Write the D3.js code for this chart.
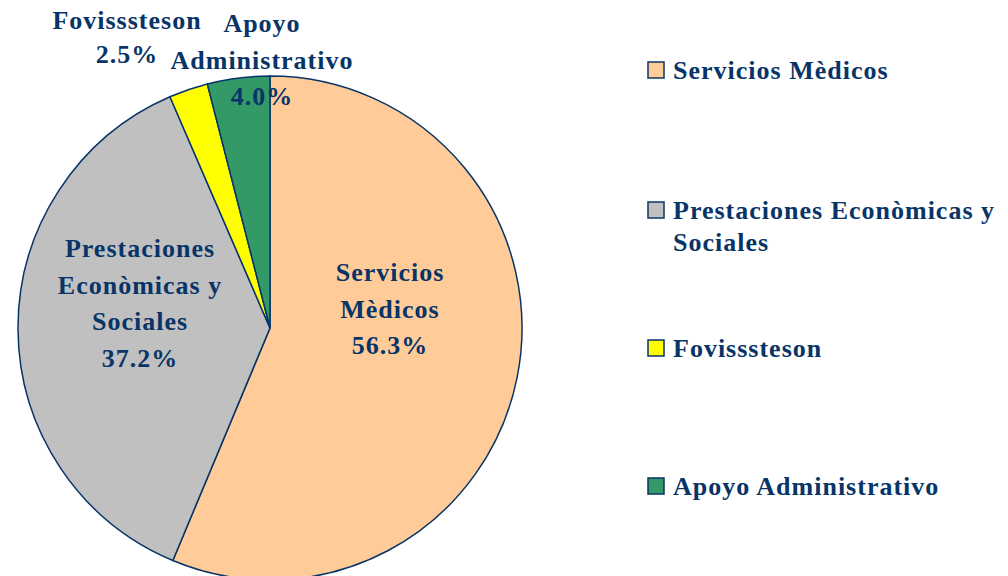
<!DOCTYPE html>
<html>
<head>
<meta charset="utf-8">
<script src="https://cdn.jsdelivr.net/npm/d3@7"></script>
<style>
  body { margin: 0; background: #fff; }
  text { font-family: "Liberation Serif", "Times New Roman", serif; font-weight: bold; fill: #083468; letter-spacing: 1px; }
</style>
</head>
<body>
<div id="chart"></div>
<script>
// Pie chart - budget share by area
const categories = ["Servicios Mèdicos", "Prestaciones Econòmicas y Sociales", "Fovisssteson", "Apoyo Administrativo"];
const values = [56.3, 37.2, 2.5, 4.0];
const fills = ["#ffcc99", "#c0c0c0", "#ffff00", "#339966"];
const sliceLabels = [
    ["Servicios", "Mèdicos"],
    ["Prestaciones", "Econòmicas y", "Sociales"],
    ["Fovisssteson"],
    ["Apoyo", "Administrativo"]
];
const legendLines = [
    ["Servicios Mèdicos"],
    ["Prestaciones Econòmicas y", "Sociales"],
    ["Fovisssteson"],
    ["Apoyo Administrativo"]
];

const width = 1008, height = 576;
const cx = 270, cy = 328, radius = 252;
const stroke = "#083468";

const svg = d3.select("#chart").append("svg")
    .attr("width", width)
    .attr("height", height);

const pie = d3.pie().sort(null).value(d => d);
const arc = d3.arc().innerRadius(0).outerRadius(radius);
const arcs = pie(values);

const g = svg.append("g").attr("transform", `translate(${cx},${cy})`);

g.selectAll("path")
    .data(arcs)
    .enter()
    .append("path")
    .attr("d", arc)
    .attr("fill", (d, i) => fills[i])
    .attr("stroke", stroke)
    .attr("stroke-width", 1.5);

// label anchors (center of first line), relative to pie center
const labelPos = [[120, -56], [-130, -80], [-143, -308], [-8, -305]];
const lineH = 36.5;

arcs.forEach((a, i) => {
    const lines = sliceLabels[i].concat([d3.format(".1f")(values[i]) + "%"]);
    const t = g.append("text")
        .attr("text-anchor", "middle")
        .attr("font-size", 26);
    lines.forEach((l, j) => {
        const tsp = t.append("tspan")
            .attr("x", labelPos[i][0])
            .attr("y", labelPos[i][1] + j * lineH + 9)
            .text(l);
        if (i === 2 && j === 1) tsp.attr("y", labelPos[i][1] + 34 + 9);
    });
});

// Legend
const legendY = [70, 210, 348, 486];
const legend = svg.append("g");
categories.forEach((c, i) => {
    const row = legend.append("g").attr("transform", `translate(648,${legendY[i]})`);
    row.append("rect")
        .attr("x", 0).attr("y", -8)
        .attr("width", 16).attr("height", 16)
        .attr("fill", fills[i])
        .attr("stroke", stroke)
        .attr("stroke-width", 1.5);
    legendLines[i].forEach((l, j) => {
        row.append("text")
            .attr("x", 25)
            .attr("y", 9 + j * 32)
            .attr("font-size", 26)
            .text(l);
    });
});
</script>
</body>
</html>
